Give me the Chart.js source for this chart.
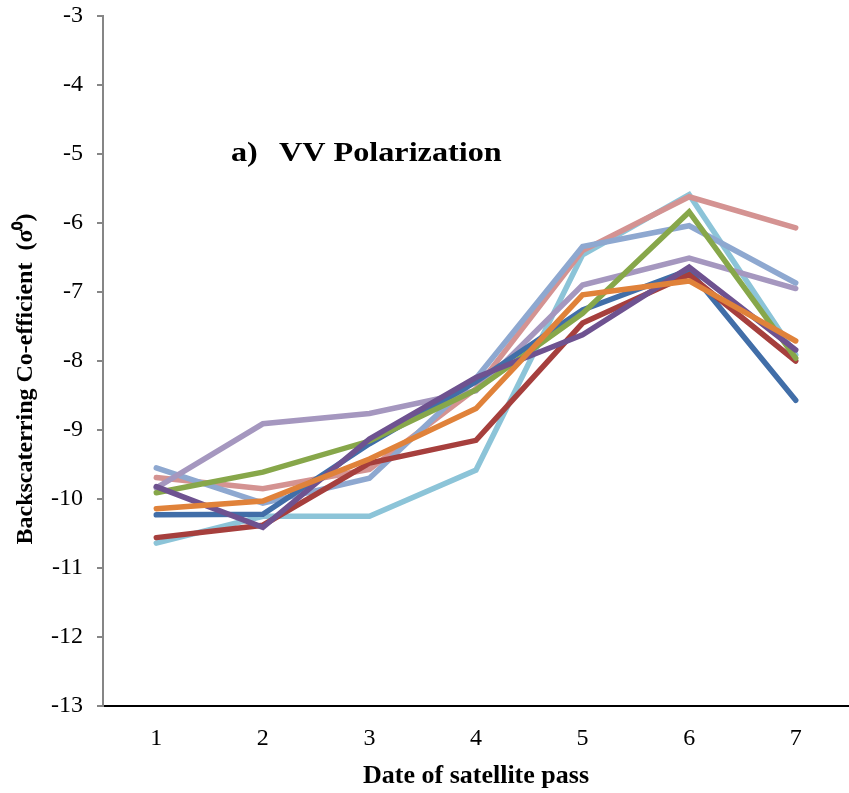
<!DOCTYPE html>
<html>
<head>
<meta charset="utf-8">
<title>VV Polarization</title>
<script src="https://cdn.jsdelivr.net/npm/chart.js@4.4.1/dist/chart.umd.min.js"></script>
<style>
  html, body { margin: 0; padding: 0; background: #fff; }
  #wrap { width: 849px; height: 793px; overflow: hidden; }
</style>
</head>
<body>
<div id="wrap"><canvas id="vvChart" width="849" height="793"></canvas></div>
<script>
// date of satellite pass
let passes = ["1", "2", "3", "4", "5", "6", "7"];

// backscattering coefficient per line (dB)
let blueSeries = [-10.23, -10.22, -9.20, -8.30, -7.26, -6.68, -8.57];
let redSeries = [-10.56, -10.38, -9.48, -9.15, -7.45, -6.75, -8.00];
let greenSeries = [-9.91, -9.61, -9.16, -8.42, -7.31, -5.84, -7.96];
let purpleSeries = [-9.82, -10.41, -9.13, -8.24, -7.62, -6.64, -7.84];
let cyanSeries = [-10.64, -10.25, -10.25, -9.58, -6.46, -5.59, -7.91];
let orangeSeries = [-10.14, -10.03, -9.42, -8.69, -7.04, -6.84, -7.71];
let pinkSeries = [-9.69, -9.85, -9.57, -8.40, -6.40, -5.62, -6.07];
let lightBlueSeries = [-9.55, -10.06, -9.70, -8.25, -6.34, -6.04, -6.87];
let lightPurpleSeries = [-9.84, -8.91, -8.76, -8.43, -6.90, -6.51, -6.95];

let serif = "'Liberation Serif', 'Times New Roman', serif";

// first entry ends up on top
let lines = [
    { data: orangeSeries, color: "#e0823a" },
    { data: purpleSeries, color: "#6e5290" },
    { data: greenSeries, color: "#87a74a" },
    { data: redSeries, color: "#a63f3d" },
    { data: blueSeries, color: "#416ea8" },
    { data: lightPurpleSeries, color: "#a597bf" },
    { data: lightBlueSeries, color: "#8ea8d0" },
    { data: pinkSeries, color: "#d49392" },
    { data: cyanSeries, color: "#8cc4d8" }
];

// panel label inside the plot
let panelLabel = {
    id: "panelLabel",
    afterDraw(chart) {
        let ctx = chart.ctx;
        ctx.save();
        ctx.fillStyle = "#000";
        ctx.font = "bold 28px " + serif;
        ctx.textBaseline = "alphabetic";
        ctx.translate(231, 161);
        ctx.scale(1.15, 1);
        ctx.fillText("a)", 0, 0);
        ctx.fillText("VV Polarization", 48 / 1.15, 0);
        ctx.restore();
    }
};

new Chart("vvChart", {
    type: "line",
    data: {
        labels: passes,
        datasets: lines.map(l => ({
            data: l.data,
            borderColor: l.color,
            backgroundColor: l.color,
            borderWidth: 5.5,
            borderCapStyle: "round",
            borderJoinStyle: "miter",
            pointRadius: 0,
            tension: 0,
            fill: false
        }))
    },
    options: {
        responsive: false,
        animation: false,
        layout: { padding: { left: 0, top: 16, right: -5, bottom: 0 } },
        plugins: {
            legend: { display: false },
            tooltip: { enabled: false }
        },
        scales: {
            x: {
                offset: true,
                grid: { display: false, drawTicks: false },
                border: { display: true, color: "#000", width: 2 },
                ticks: { color: "#000", padding: 18, font: { family: serif, size: 24 } },
                title: {
                    display: true,
                    text: "Date of satellite pass",
                    color: "#000",
                    font: { family: serif, size: 26, weight: "bold" },
                    padding: { top: 0, bottom: 1 }
                },
                afterFit: s => { s.height = 87; }
            },
            y: {
                min: -13,
                max: -3,
                ticks: { stepSize: 1, color: "#000", padding: 14, font: { family: serif, size: 24 } },
                grid: { display: true, drawOnChartArea: false, drawTicks: true, tickLength: 6, color: "#868686", lineWidth: 2 },
                border: { display: true, color: "#868686", width: 2 },
                title: {
                    display: true,
                    text: "Backscaterring Co-efficient  (\u03c3\u2070)      ",
                    color: "#000",
                    font: { family: serif, size: 24, weight: "bold" },
                    padding: { top: 11, bottom: 0 }
                },
                afterFit: s => {
                    s.width = 103;
                    s.paddingTop = 12;
                    s.paddingBottom = 12;
                }
            }
        }
    },
    plugins: [panelLabel]
});
</script>
</body>
</html>
